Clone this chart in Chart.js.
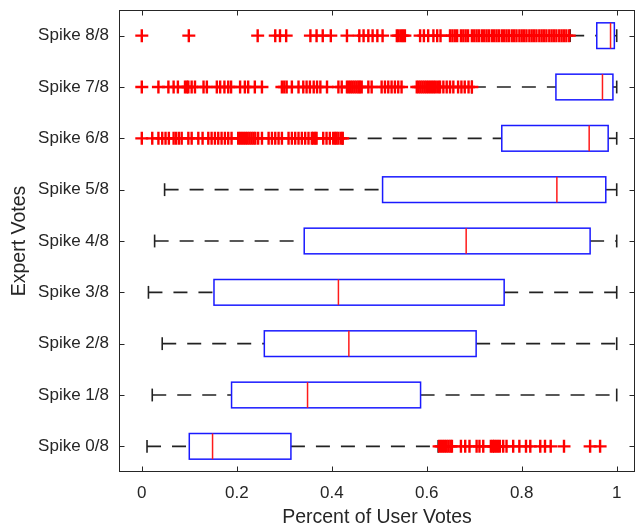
<!DOCTYPE html>
<html>
<head>
<meta charset="utf-8">
<script src="https://cdn.jsdelivr.net/npm/chart.js@4/dist/chart.umd.min.js"></script>
<style>
  html, body { margin: 0; padding: 0; background: #fff; }
  canvas { display: block; }
</style>
</head>
<body>
<canvas id="boxChart" width="636" height="530"></canvas>
<script>
// rows bottom -> top
const categories = ['Spike 0/8', 'Spike 1/8', 'Spike 2/8', 'Spike 3/8', 'Spike 4/8',
                    'Spike 5/8', 'Spike 6/8', 'Spike 7/8', 'Spike 8/8'];
const lowerWhisker = [0.011, 0.022, 0.043, 0.014, 0.027, 0.048, 0.423, 0.695, 0.902];
const q1 =           [0.100, 0.189, 0.258, 0.152, 0.342, 0.507, 0.758, 0.872, 0.958];
const medians =      [0.149, 0.349, 0.436, 0.414, 0.683, 0.874, 0.942, 0.970, 0.987];
const q3 =           [0.314, 0.587, 0.704, 0.763, 0.944, 0.977, 0.982, 0.992, 0.995];
const upperWhisker = [0.624, 1.0, 1.0, 1.0, 1.0, 1.0, 1.0, 1.0, 1.0];

const outliers0 = [0.626, 0.630, 0.634, 0.638, 0.642, 0.646, 0.650, 0.653, 0.672, 0.681, 0.690,
  0.705, 0.711, 0.719, 0.735, 0.739, 0.742, 0.746, 0.750, 0.754, 0.761, 0.768, 0.782, 0.795,
  0.809, 0.818, 0.839, 0.849, 0.861, 0.889, 0.944, 0.965];
const outliers6 = [0.0, 0.022, 0.035, 0.043, 0.050, 0.057, 0.067, 0.072, 0.078, 0.084, 0.098, 0.105,
  0.119, 0.128, 0.140, 0.147, 0.154, 0.161, 0.168, 0.175, 0.182, 0.189, 0.203, 0.207, 0.211,
  0.215, 0.219, 0.223, 0.227, 0.231, 0.235, 0.239, 0.245, 0.253, 0.267, 0.274, 0.281, 0.288,
  0.295, 0.309, 0.316, 0.323, 0.330, 0.337, 0.344, 0.351, 0.358, 0.361, 0.365, 0.368, 0.382,
  0.389, 0.396, 0.403, 0.407, 0.410, 0.414, 0.419, 0.423];
const outliers7 = [0.0, 0.035, 0.056, 0.067, 0.076, 0.091, 0.095, 0.098, 0.105, 0.112, 0.130, 0.137,
  0.158, 0.165, 0.174, 0.182, 0.188, 0.207, 0.217, 0.224, 0.238, 0.253, 0.295, 0.300, 0.305,
  0.316, 0.330, 0.340, 0.347, 0.354, 0.362, 0.369, 0.376, 0.390, 0.414, 0.421, 0.432, 0.436,
  0.440, 0.444, 0.448, 0.452, 0.456, 0.459, 0.463, 0.477, 0.484, 0.505, 0.512, 0.519, 0.526,
  0.533, 0.540, 0.547, 0.579, 0.583, 0.587, 0.591, 0.595, 0.599, 0.603, 0.607, 0.611, 0.615,
  0.619, 0.624, 0.628, 0.635, 0.642, 0.649, 0.656, 0.666, 0.673, 0.680, 0.688, 0.695];
const outliers8 = [0.0, 0.099, 0.244, 0.281, 0.291, 0.304, 0.355, 0.368, 0.381, 0.398, 0.432, 0.458,
  0.467, 0.477, 0.486, 0.496, 0.507, 0.537, 0.541, 0.546, 0.550, 0.554, 0.586, 0.594, 0.603,
  0.614, 0.622, 0.629, 0.649, 0.654, 0.659, 0.664, 0.672, 0.677, 0.682, 0.687, 0.695, 0.700,
  0.705, 0.710, 0.716, 0.721, 0.726, 0.731, 0.737, 0.742, 0.747, 0.752, 0.758, 0.763, 0.768,
  0.773, 0.779, 0.784, 0.789, 0.795, 0.800, 0.805, 0.810, 0.816, 0.821, 0.826, 0.831, 0.837,
  0.842, 0.847, 0.852, 0.858, 0.863, 0.868, 0.873, 0.879, 0.884, 0.889, 0.894, 0.900];

const xTicks = [0, 0.2, 0.4, 0.6, 0.8, 1];
const yTicks = [0, 1, 2, 3, 4, 5, 6, 7, 8];

const outlierRows = [
  { row: 0, values: outliers0 },
  { row: 6, values: outliers6 },
  { row: 7, values: outliers7 },
  { row: 8, values: outliers8 }
];

const textColor = '#262626';
const fontFamily = '"Liberation Sans", Arial, Helvetica, sans-serif';

// whiskers, boxes, medians under the outliers; axes frame on top
const boxPlugin = {
  id: 'boxes',
  beforeDatasetsDraw(chart) {
    const { ctx, scales: { x, y } } = chart;
    const seg = (x1, y1, x2, y2) => { ctx.beginPath(); ctx.moveTo(x1, y1); ctx.lineTo(x2, y2); ctx.stroke(); };
    ctx.save();
    categories.forEach((c, i) => {
      const yc = y.getPixelForValue(i);
      const half = Math.abs(y.getPixelForValue(i + 0.25) - yc);
      const cap = half / 2;
      const xl = x.getPixelForValue(lowerWhisker[i]);
      const xq1 = x.getPixelForValue(q1[i]);
      const xm = x.getPixelForValue(medians[i]);
      const xq3 = x.getPixelForValue(q3[i]);
      const xu = x.getPixelForValue(upperWhisker[i]);

      ctx.strokeStyle = '#222';
      ctx.lineWidth = 1.6;
      ctx.setLineDash([14, 11]);
      seg(xl, yc, xq1, yc);
      seg(xq3, yc, xu, yc);
      ctx.setLineDash([]);
      seg(xl, yc - cap, xl, yc + cap);
      seg(xu, yc - cap, xu, yc + cap);

      ctx.strokeStyle = '#1a1aff';
      ctx.lineWidth = 1.5;
      ctx.strokeRect(xq1, yc - half, xq3 - xq1, 2 * half);

      ctx.strokeStyle = '#ff1a1a';
      seg(xm, yc - half, xm, yc + half);
    });
    ctx.restore();
  },
  afterDraw(chart) {
    const { ctx, chartArea: a, scales: { x, y } } = chart;
    ctx.save();
    ctx.strokeStyle = textColor;
    ctx.lineWidth = 1;
    const L = Math.round(a.left) + 0.5, R = Math.round(a.right) - 0.5;
    const T = Math.round(a.top) + 0.5, B = Math.round(a.bottom) - 0.5;
    ctx.strokeRect(L, T, R - L, B - T);
    ctx.beginPath();
    xTicks.forEach(v => {
      const px = Math.round(x.getPixelForValue(v)) + 0.5;
      ctx.moveTo(px, B); ctx.lineTo(px, B - 5);
      ctx.moveTo(px, T); ctx.lineTo(px, T + 5);
    });
    yTicks.forEach(v => {
      const py = Math.round(y.getPixelForValue(v)) + 0.5;
      ctx.moveTo(L, py); ctx.lineTo(L + 5, py);
      ctx.moveTo(R, py); ctx.lineTo(R - 5, py);
    });
    ctx.stroke();
    ctx.restore();
  }
};

const chart = new Chart(document.getElementById('boxChart'), {
  type: 'scatter',
  data: {
    datasets: outlierRows.map(r => ({
      label: categories[r.row],
      data: r.values.map(v => ({ x: v, y: r.row })),
      pointStyle: 'cross',
      pointRadius: 6.5,
      pointBorderWidth: 2.4,
      borderColor: '#ff0000',
      backgroundColor: '#ff0000',
      showLine: false
    }))
  },
  options: {
    responsive: false,
    animation: false,
    events: [],
    layout: { autoPadding: false, padding: { top: 10, right: 1, left: 0, bottom: 0 } },
    plugins: { legend: { display: false }, tooltip: { enabled: false } },
    scales: {
      x: {
        type: 'linear',
        position: 'bottom',
        min: -0.048,
        max: 1.0385,
        afterBuildTicks: s => { s.ticks = xTicks.map(v => ({ value: v })); },
        afterFit: s => { s.height = 58; s.paddingLeft = 0; s.paddingRight = 0; },
        grid: { display: false, drawTicks: false },
        border: { display: false },
        ticks: {
          padding: 11,
          color: textColor,
          font: { family: fontFamily, size: 17 },
          callback: v => String(v)
        },
        title: {
          display: true,
          text: 'Percent of User Votes',
          color: textColor,
          font: { family: fontFamily, size: 19.5 },
          padding: { top: 1, bottom: 1 }
        }
      },
      y: {
        type: 'linear',
        position: 'left',
        min: -0.5,
        max: 8.5,
        afterBuildTicks: s => { s.ticks = yTicks.map(v => ({ value: v })); },
        afterFit: s => { s.width = 119; s.paddingTop = 0; s.paddingBottom = 0; },
        grid: { display: false, drawTicks: false },
        border: { display: false },
        ticks: {
          padding: 10,
          color: textColor,
          font: { family: fontFamily, size: 17 },
          callback: v => categories[v]
        },
        title: {
          display: true,
          text: 'Expert Votes',
          color: textColor,
          font: { family: fontFamily, size: 19.5 },
          padding: { top: 8, bottom: 8 }
        }
      }
    }
  },
  plugins: [boxPlugin]
});
</script>
</body>
</html>
